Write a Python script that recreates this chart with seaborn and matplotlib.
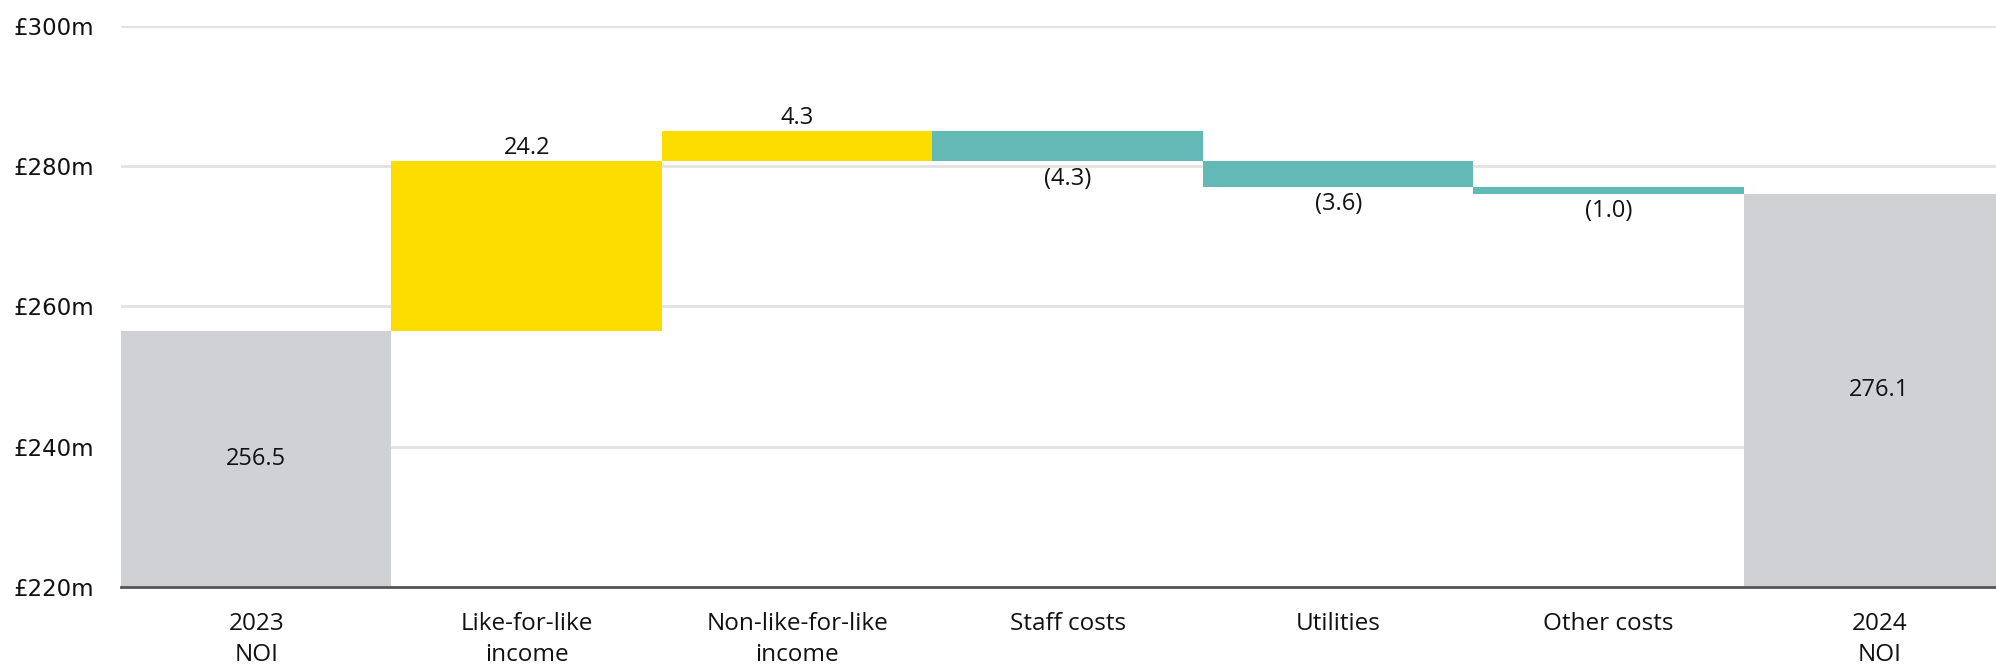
import matplotlib
matplotlib.use("Agg")
import matplotlib.pyplot as plt
import seaborn as sns
import numpy as np
import pandas as pd

categories = ["2023\nNOI", "Like-for-like\nincome", "Non-like-for-like\nincome",
              "Staff costs", "Utilities", "Other costs", "2024\nNOI"]
changes = [256.5, 24.2, 4.3, -4.3, -3.6, -1.0, 276.1]
kinds = ["total", "up", "up", "down", "down", "down", "total"]
value_labels = ["256.5", "24.2", "4.3", "(4.3)", "(3.6)", "(1.0)", "276.1"]
y_ticks = [220, 240, 260, 280, 300]
y_tick_labels = ["£220m", "£240m", "£260m", "£280m", "£300m"]

colours = {"total": "#D0D1D5", "up": "#FDDC00", "down": "#62B9B5"}
axis_floor = 220

# running level before each step
bases, heights = [], []
level = 0.0
for kind, v in zip(kinds, changes):
    if kind == "total":
        bases.append(axis_floor)
        heights.append(v - axis_floor)
        level = v
    else:
        lo = level if v >= 0 else level + v
        bases.append(lo)
        heights.append(abs(v))
        level += v

df = pd.DataFrame({"category": categories, "height": heights})

sns.set_theme(style="white")
label_font = "Open Sans"
plt.rcParams["font.family"] = ["DejaVu Sans"]

fig = plt.figure(figsize=(19.96, 6.66), dpi=100)
ax = fig.add_axes([0.0606, 0.1186, 1 - 0.0606, 0.961 - 0.1186])

sns.barplot(data=df, x="category", y="height", bottom=bases, width=1.0,
            color=colours["total"], saturation=1, ax=ax, zorder=2)
for patch, kind in zip(ax.patches, kinds):
    patch.set_facecolor(colours[kind])
    patch.set_edgecolor("none")

ax.set_ylim(220, 300)
ax.set_xlim(-0.5, 6.432)
ax.set_yticks(y_ticks)
ax.set_yticklabels(y_tick_labels, fontsize=16.5, color="#111111")
ax.yaxis.grid(True, color="#E2E2E2", linewidth=2, zorder=0)
ax.set_axisbelow(True)
ax.tick_params(axis="y", length=0, pad=19)
ax.tick_params(axis="x", length=0, pad=18)
ax.set_xticks(range(len(categories)))
ax.set_xticklabels(categories, fontsize=17.5, family=label_font, color="#111111",
                   linespacing=1.4)
ax.set_xlabel("")
ax.set_ylabel("")
for s in ["left", "right", "top"]:
    ax.spines[s].set_visible(False)
ax.spines["bottom"].set_color("#555555")
ax.spines["bottom"].set_linewidth(2)
ax.spines["bottom"].set_zorder(3)

for i, (kind, b, h, lab) in enumerate(zip(kinds, bases, heights, value_labels)):
    if kind == "total":
        ax.text(i, b + h / 2, lab, ha="center", va="center", fontsize=17,
                family=label_font, color="#111111")
    elif kind == "up":
        ax.annotate(lab, (i, b + h), xytext=(0, 1), textcoords="offset points",
                    ha="center", va="bottom", fontsize=17, family=label_font,
                    color="#111111")
    else:
        ax.annotate(lab, (i, b), xytext=(0, -4), textcoords="offset points",
                    ha="center", va="top", fontsize=17, family=label_font,
                    color="#111111")

fig.savefig("out.png", dpi=100)
